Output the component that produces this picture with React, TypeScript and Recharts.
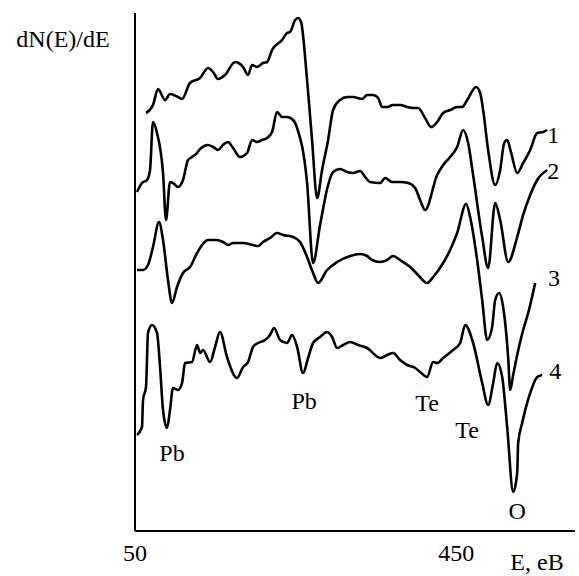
import { LineChart, Line, XAxis, YAxis, ReferenceDot } from "recharts";

// Auger spectra, energy E (eV) vs dN(E)/dE (arbitrary units, curves offset)
const curve1: [number, number][] = [
  [63.7, 418], [72.4, 426], [78.7, 442], [87.4, 431], [93.6, 437], [103.6, 434],
  [108.6, 432], [118.5, 448], [131, 453], [141, 463], [147.2, 459], [153.4, 452],
  [162.1, 456], [174.6, 469], [184.6, 464], [190.8, 456], [195.8, 466], [202, 464],
  [209.5, 468], [214.5, 469], [220.7, 481], [233.2, 491], [239.4, 498], [243.1, 499],
  [249.4, 511], [253.1, 513], [256.8, 509], [264.3, 451], [270.5, 391], [276.8, 333],
  [283, 361], [290.5, 391], [296.7, 421], [305.4, 431], [314.2, 434], [321.6, 434],
  [332.8, 432], [339.1, 436], [346.5, 436], [352.8, 433], [357.8, 424], [364, 424],
  [371.5, 426], [380.2, 426], [389, 424], [396.4, 423], [402.6, 423], [411.3, 413],
  [418.8, 404], [426.3, 409], [433.8, 418], [442.5, 421], [451.2, 424], [457.4, 424],
  [463.7, 431], [474.9, 444], [479.9, 438], [483.6, 421], [489.8, 381], [498.6, 346],
  [504.8, 361], [509.8, 388], [513.5, 391], [518.5, 378], [526, 358], [533.4, 368],
  [542.2, 381], [550.9, 398], [558.4, 399], [563.4, 401],
];

const curve2: [number, number][] = [
  [52.5, 339], [58.7, 348], [65, 351], [68.7, 361], [72.4, 409], [77.4, 398],
  [84.9, 358], [88.6, 311], [93.6, 349], [97.3, 348], [103.6, 344], [109.8, 351],
  [116, 371], [121, 374], [127.3, 378], [131, 382], [141, 386], [147.2, 384],
  [153.4, 381], [159.6, 386], [165.9, 389], [172.1, 383], [180.8, 374], [189.6, 378],
  [195.8, 391], [202, 389], [208.2, 391], [214.5, 393], [220.7, 399], [226.9, 419],
  [233.2, 414], [239.4, 414], [246.9, 411], [251.9, 403], [264.3, 348], [271.8, 268],
  [280.5, 306], [290.5, 346], [296.7, 359], [305.4, 362], [314.2, 359], [321.6, 358],
  [330.4, 360], [336.6, 354], [342.8, 349], [355.3, 348], [361.5, 353], [370.2, 349],
  [380.2, 349], [390.2, 348], [398.9, 343], [405.1, 331], [411.3, 321], [426.3, 356],
  [433.8, 366], [442.5, 374], [451.2, 384], [458.7, 401], [464.9, 388], [471.1, 356],
  [482.4, 294], [489.8, 263], [498.6, 328], [504.8, 311], [514.8, 269], [526, 294],
  [533.4, 316], [542.2, 336], [550.9, 351], [563.4, 361],
];

const curve3: [number, number][] = [
  [52.5, 261], [60, 261], [66.2, 266], [72.4, 284], [79.9, 309], [84.9, 291],
  [91.1, 251], [96.1, 228], [102.3, 244], [109.8, 258], [118.5, 264], [127.3, 278],
  [133.5, 286], [141, 291], [152.2, 291], [159.6, 289], [165.9, 286], [172.1, 288],
  [184.6, 288], [197, 286], [203.3, 285], [209.5, 289], [218.2, 293], [226.9, 298],
  [234.4, 296], [246.9, 294], [255.6, 289], [264.3, 274], [271.8, 258], [278, 248],
  [289.2, 261], [301.7, 269], [317.9, 275], [330.4, 277], [339.1, 275], [345.3, 271],
  [355.3, 269], [364, 271], [371.5, 275], [380.2, 271], [392.7, 264], [402.6, 256],
  [413.8, 248], [421.3, 254], [433.8, 268], [442.5, 281], [451.2, 298], [462.4, 327],
  [467.4, 314], [476.1, 271], [482.4, 231], [488.6, 191], [494.8, 204], [498.6, 231],
  [503.5, 238], [508.5, 224], [514.8, 173], [517.3, 141], [521, 156], [526, 176],
  [533.4, 201], [539.7, 218], [548.4, 248],
];

const curve4: [number, number][] = [
  [52.5, 96], [58.7, 104], [60, 131], [63.7, 144], [66.2, 198], [71.2, 206],
  [77.4, 198], [81.2, 164], [84.9, 121], [89.9, 103], [93.6, 121], [97.3, 143],
  [103.6, 141], [108.6, 148], [112.3, 168], [121, 169], [127.3, 186], [131, 178],
  [134.7, 181], [143.5, 169], [149.7, 184], [155.9, 199], [164.6, 174], [177.1, 153],
  [184.6, 164], [190.8, 169], [197, 184], [203.3, 188], [212, 191], [218.2, 196],
  [223.2, 203], [230.7, 191], [239.4, 188], [245.6, 196], [251.9, 184], [259.3, 158],
  [265.6, 173], [271.8, 188], [280.5, 194], [289.2, 199], [295.5, 194], [301.7, 183],
  [309.2, 186], [317.9, 189], [327.9, 186], [339.1, 183], [355.3, 173], [364, 176],
  [371.5, 178], [380.2, 171], [389, 166], [398.9, 163], [405.1, 159], [413.8, 154],
  [421.3, 169], [426.3, 168], [433.8, 173], [446.2, 181], [455, 188], [461.2, 206],
  [471.1, 188], [482.4, 148], [489.8, 126], [496.1, 148], [501.1, 168], [507.3, 154],
  [513.5, 104], [521, 39], [526, 58], [527.2, 88], [532.2, 108], [542.2, 138],
  [550.9, 154], [557.1, 156],
];

const xTicks = [50, 450];

// peak labels and curve numbers, placed in data coordinates
const annotations: { text: string; e: number; v: number }[] = [
  { text: "Pb", e: 96.1, v: 79 },
  { text: "Pb", e: 260.6, v: 131 },
  { text: "Te", e: 413.8, v: 129 },
  { text: "Te", e: 463.7, v: 102 },
  { text: "O", e: 526, v: 21 },
  { text: "1", e: 570.8, v: 397 },
  { text: "2", e: 570.8, v: 361 },
  { text: "3", e: 572, v: 254 },
  { text: "4", e: 573.3, v: 161 },
];

const FONT = "Liberation Serif, Times New Roman, serif";

const toPoints = (c: [number, number][]) => c.map(([e, v]) => ({ e, v }));

const curves = [curve1, curve2, curve3, curve4];

export default function App() {
  return (
    <div style={{ position: "absolute", left: 0, top: 0, width: 579, height: 576, background: "#fff" }}>
      <LineChart width={579} height={576} margin={{ top: 13, right: 4, left: 125, bottom: 15 }}>
        <XAxis
          dataKey="e"
          type="number"
          domain={[50, 598]}
          ticks={xTicks}
          allowDataOverflow
          height={30}
          tickSize={0}
          tickMargin={13}
          axisLine={{ stroke: "#000", strokeWidth: 2 }}
          tick={{ fontSize: 24, fill: "#000", fontFamily: FONT }}
        />
        <YAxis
          type="number"
          domain={[0, 518]}
          width={10}
          tick={false}
          tickLine={false}
          axisLine={{ stroke: "#000", strokeWidth: 2 }}
        />
        {curves.map((c, i) => (
          <Line
            key={i}
            data={toPoints(c)}
            dataKey="v"
            type="monotone"
            stroke="#000"
            strokeWidth={2.6}
            strokeLinejoin="round"
            dot={false}
            isAnimationActive={false}
          />
        ))}
        {annotations.map((a, i) => (
          <ReferenceDot
            key={i}
            x={a.e}
            y={a.v}
            r={0}
            ifOverflow="visible"
            shape={(p: any) => (
              <text
                x={p.cx}
                y={p.cy}
                dy="0.36em"
                textAnchor="middle"
                fontSize={24}
                fontFamily={FONT}
                fill="#000"
              >
                {a.text}
              </text>
            )}
          />
        ))}
      </LineChart>
      <svg width={579} height={576} style={{ position: "absolute", left: 0, top: 0, pointerEvents: "none" }}>
        <text x={63} y={47} textAnchor="middle" fontSize={24} fontFamily={FONT} fill="#000">
          dN(E)/dE
        </text>
        <text x={537} y={570} textAnchor="middle" fontSize={24} fontFamily={FONT} fill="#000">
          E, eB
        </text>
      </svg>
    </div>
  );
}
